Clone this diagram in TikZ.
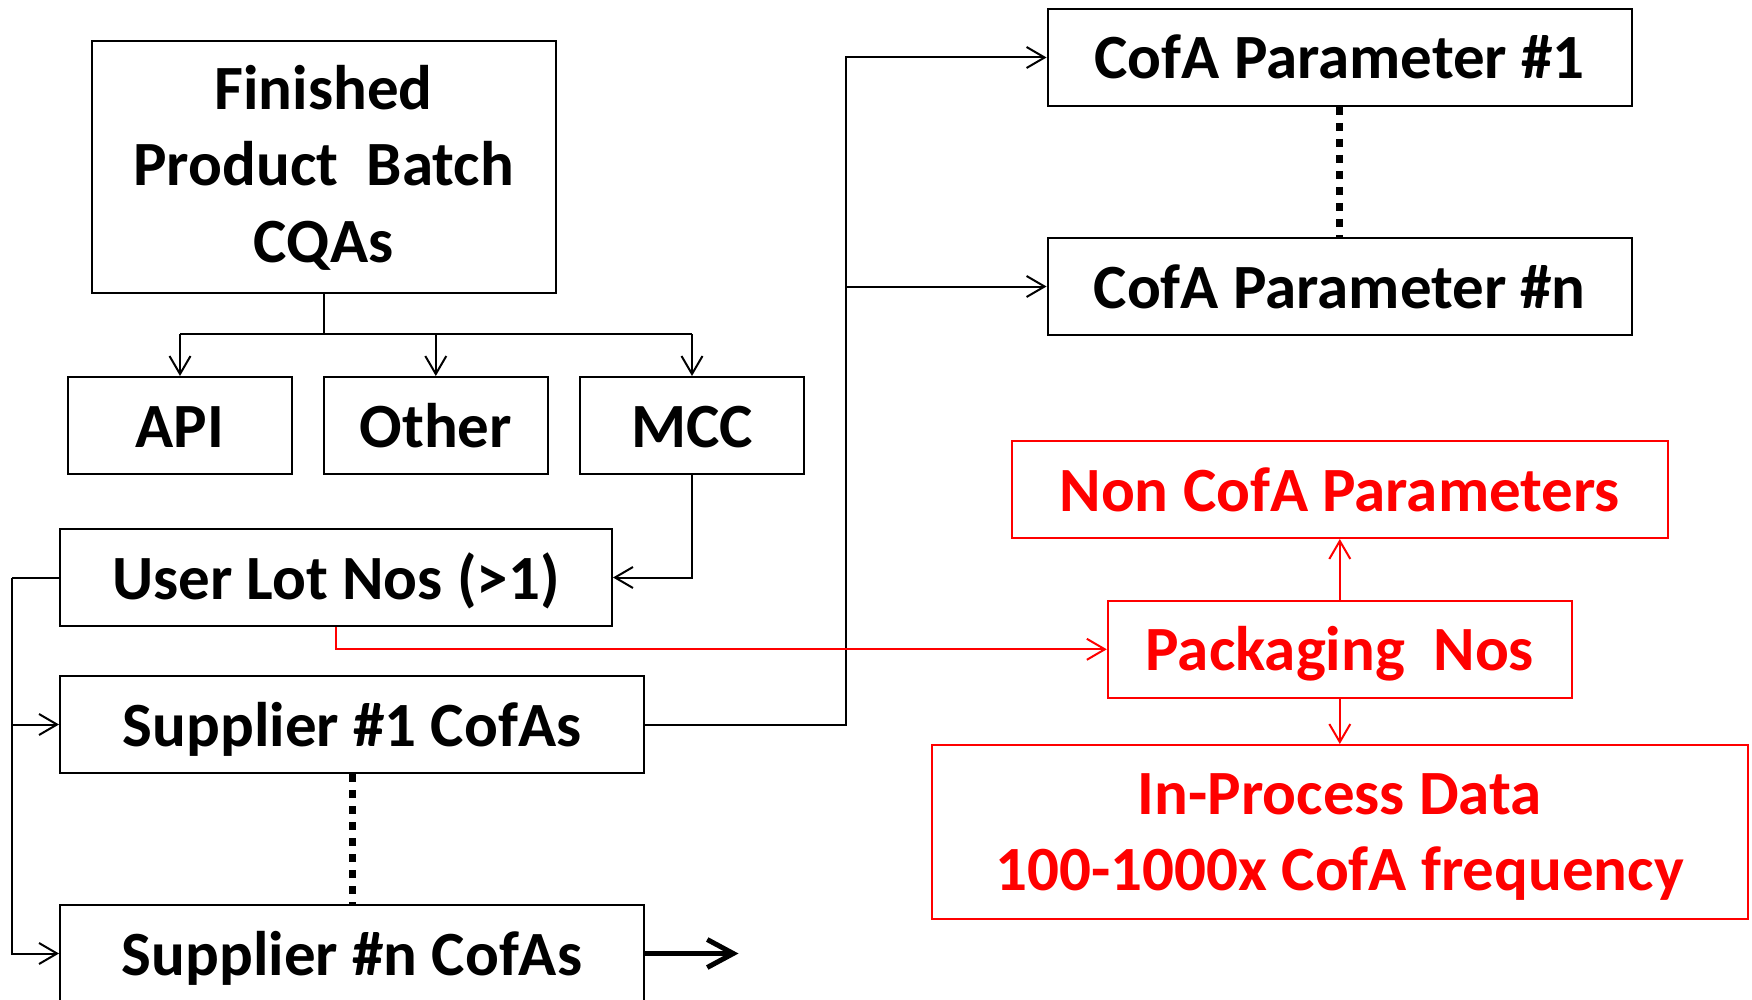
\documentclass[tikz,border=0pt]{standalone}
\usepackage{fontspec}
\setmainfont{Carlito}
\usetikzlibrary{arrows.meta}
\begin{document}
\begin{tikzpicture}[x=1pt,y=-1pt,
  frame/.style={draw=black,line width=2pt,inner sep=0pt,font=\bfseries\fontsize{63}{76}\selectfont},
  box/.style={frame,text height=43pt,text depth=0pt},
  rbox/.style={box,draw=red,text=red},
  txt/.style={inner sep=0pt,anchor=base,font=\bfseries\fontsize{63}{76}\selectfont},
  conn/.style={line width=2pt},
  arr/.style={conn,-{Straight Barb[length=18pt,width=21pt]}},
  rarr/.style={arr,draw=red},
  bigarr/.style={line width=5pt,-{Straight Barb[length=26pt,width=28pt]}},
  dotline/.style={line width=7pt,dash pattern=on 8pt off 8pt}
]
\useasboundingbox (0,0) rectangle (1752,1000);

% black boxes
\node[frame,minimum width=464pt,minimum height=252pt] (fin) at (323.6,167) {};
\node[txt] (finA) at (323.6,110) {Finished};
\node[txt] (finB) at (323.6,186) {Product\ \ Batch};
\node[txt] (finC) at (323.6,262) {CQAs};
\node[box,minimum width=224pt,minimum height=97pt] (api) at (180,425.5) {API};
\node[box,minimum width=224pt,minimum height=97pt] (oth) at (435.8,425.5) {Other};
\node[box,minimum width=224pt,minimum height=97pt] (mcc) at (692,425.5) {MCC};
\node[box,minimum width=552pt,minimum height=97pt] (ulot) at (336,577.5) {User Lot Nos (>1)};
\node[box,minimum width=584pt,minimum height=97pt] (sup1) at (352,724.5) {Supplier \#1 CofAs};
\node[box,minimum width=584pt,minimum height=97pt] (supn) at (352,953.5) {Supplier \#n CofAs};
\node[box,minimum width=584.5pt,minimum height=97pt] (cofa1) at (1339.8,57.5) {CofA Parameter \#1};
\node[box,minimum width=584.5pt,minimum height=97pt] (cofan) at (1339.8,286.5) {CofA Parameter \#n};

% red boxes
\node[rbox,minimum width=656pt,minimum height=97pt] (noncofa) at (1339.8,489.5) {Non CofA Parameters};
\node[rbox,minimum width=464pt,minimum height=97pt] (pack) at (1339.8,649.3) {Packaging\ \ Nos};
\node[frame,draw=red,minimum width=816pt,minimum height=174pt] (inproc) at (1339.8,832) {};
\node[txt,text=red] (inA) at (1339.8,814) {In-Process Data};
\node[txt,text=red] (inB) at (1339.8,890.7) {100-1000x CofA frequency};

% coordinates
\coordinate (br) at (323.6,334.3);
\coordinate (lft) at (12.3,577.5);
\coordinate (vx) at (846.4,0);
\coordinate (tend) at (738.5,953.5);

% tree from finished product
\draw[conn] (fin.south) -- (br);
\draw[conn] (api.north |- br) -- (mcc.north |- br);
\draw[arr] (api.north |- br) -- (api.north);
\draw[arr] (oth.north |- br) -- (oth.north);
\draw[arr] (mcc.north |- br) -- (mcc.north);

% MCC to user lot
\draw[arr] (mcc.south) |- (ulot.east);

% user lot to suppliers
\draw[conn] (ulot.west) -- (lft);
\draw[arr] (lft) |- (sup1.west);
\draw[arr] (lft) |- (supn.west);

% supplier to CofA parameters
\draw[arr] (sup1.east) -| (vx |- cofa1.west) -- (cofa1.west);
\draw[arr] (vx |- cofan.west) -- (cofan.west);

% dotted continuations
\draw[dotline] (cofa1.south) -- (cofan.north);
\draw[dotline] (sup1.south) -- (supn.north);

% thick arrow
\draw[bigarr] (supn.east) -- (tend);

% red connectors
\draw[rarr] (ulot.south) |- (pack.west);
\draw[rarr] (pack.north) -- (noncofa.south);
\draw[rarr] (pack.south) -- (inproc.north);
\end{tikzpicture}
\end{document}
